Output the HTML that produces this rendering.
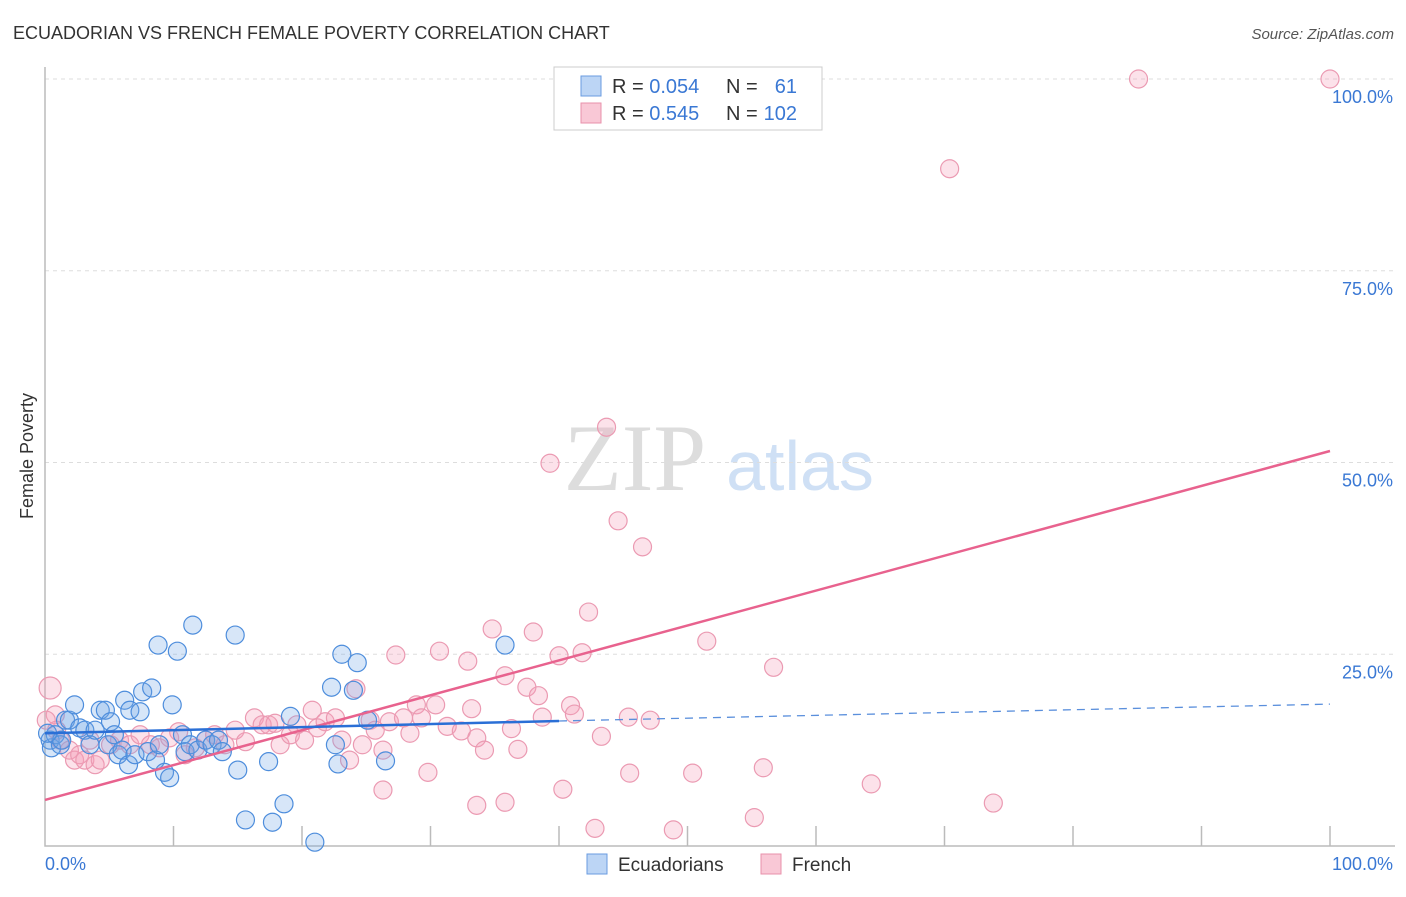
<!DOCTYPE html>
<html><head><meta charset="utf-8"><style>
body{margin:0;background:#fff;font-family:"Liberation Sans",sans-serif}
</style></head><body>
<svg width="1406" height="892" xmlns="http://www.w3.org/2000/svg" font-family="Liberation Sans, sans-serif">
<text x="13" y="39" font-size="18" fill="#333">ECUADORIAN VS FRENCH FEMALE POVERTY CORRELATION CHART</text>
<text x="1394" y="39" font-size="15" fill="#555" font-style="italic" text-anchor="end">Source: ZipAtlas.com</text>
<text x="33" y="456" font-size="18" fill="#333" transform="rotate(-90 33 456)" text-anchor="middle">Female Poverty</text>
<text x="635" y="490" font-size="95" fill="#ddd" font-family="Liberation Serif, serif" text-anchor="middle">ZIP</text>
<text x="800" y="490" font-size="70" fill="#cfe0f5" text-anchor="middle">atlas</text>
<g id="grid"></g>
<g id="marks"></g>
<rect x="554" y="67" width="268" height="63" fill="#fff" stroke="#ccc"/>
<rect x="581" y="76" width="20" height="20" fill="#bcd5f5" stroke="#6a9be0"/>
<rect x="581" y="103" width="20" height="20" fill="#f9c8d6" stroke="#e891ab"/>
<text x="612" y="93" font-size="20" fill="#333">R = <tspan fill="#3a78d4">0.054</tspan></text>
<text x="726" y="93" font-size="20" fill="#333">N =</text>
<text x="797" y="93" font-size="20" fill="#3a78d4" text-anchor="end">61</text>
<text x="612" y="120" font-size="20" fill="#333">R = <tspan fill="#3a78d4">0.545</tspan></text>
<text x="726" y="120" font-size="20" fill="#333">N =</text>
<text x="797" y="120" font-size="20" fill="#3a78d4" text-anchor="end">102</text>
<rect x="587" y="854" width="20" height="20" fill="#bcd5f5" stroke="#6a9be0"/>
<text x="618" y="871" font-size="19" fill="#333">Ecuadorians</text>
<rect x="761" y="854" width="20" height="20" fill="#f9c8d6" stroke="#e891ab"/>
<text x="792" y="871" font-size="19" fill="#333">French</text>
</svg>
<script>
const yTicks=[25,50,75,100];
const yTickLabels=["25.0%","50.0%","75.0%","100.0%"];
const xTickLabels=["0.0%","100.0%"];
const blueX=[0.4,0.5,0.8,1.2,1.6,1.9,2.3,2.7,3.1,3.5,3.9,4.3,4.7,4.9,5.1,5.4,5.7,6.0,6.2,6.5,6.6,7.0,7.4,7.6,8.0,8.3,8.6,8.8,8.9,9.3,9.7,9.9,10.3,10.7,10.9,11.3,11.5,11.9,12.5,13.0,13.5,13.8,14.8,15.0,15.6,17.4,17.7,18.6,19.1,21.0,22.3,22.6,22.8,23.1,24.0,24.3,25.1,26.5,35.8,1.3,0.2];
const blueY=[13.8,12.8,14.5,13.2,16.4,16.4,18.4,15.4,15.1,13.2,15.1,17.7,17.7,13.2,16.2,14.5,11.9,12.5,19.0,10.6,17.7,11.9,17.5,20.1,12.3,20.6,11.2,26.2,13.2,9.6,8.9,18.4,25.4,14.5,12.3,13.2,28.8,12.5,13.8,13.2,13.8,12.3,27.5,9.9,3.4,11.0,3.1,5.5,16.9,0.5,20.7,13.2,10.7,25.0,20.3,23.9,16.4,11.1,26.2,13.8,14.7];
const pinkX=[0.4,0.8,1.2,1.9,2.3,2.7,3.1,3.9,4.3,5.1,5.8,6.6,7.4,8.2,8.9,9.7,10.4,10.9,11.7,12.5,13.2,14.0,14.8,15.6,16.3,16.9,17.4,17.9,18.3,19.1,19.6,20.2,20.8,21.2,21.8,22.6,23.1,23.7,24.2,24.7,25.3,25.7,26.3,26.8,27.3,27.9,28.4,28.9,29.3,29.8,30.4,30.7,31.3,32.4,32.9,33.2,33.6,34.2,34.8,35.8,36.3,36.8,37.5,38.0,38.4,38.7,39.3,40.0,40.3,40.9,41.2,41.8,42.3,42.8,43.3,43.7,44.6,45.4,45.5,46.5,47.1,48.9,50.4,51.5,55.2,55.9,56.7,64.3,70.4,73.8,85.1,100,0.1,0.9,3.5,26.3,33.6,35.8];
const pinkY=[20.6,17.1,13.8,12.5,11.2,11.9,11.2,10.6,11.2,13.2,13.8,13.2,14.5,13.2,12.8,14.1,14.9,11.9,12.8,13.8,14.5,13.2,15.1,13.6,16.7,15.8,15.8,16.0,13.2,14.5,15.8,13.8,17.7,15.4,16.2,16.7,13.8,11.2,20.5,13.2,16.4,15.1,12.5,16.2,24.9,16.7,14.7,18.4,16.7,9.6,18.4,25.4,15.6,15.0,24.1,17.9,14.1,12.5,28.3,22.2,15.3,12.6,20.7,27.9,19.6,16.8,49.9,24.8,7.4,18.3,17.2,25.2,30.5,2.3,14.3,54.6,42.4,16.8,9.5,39.0,16.4,2.1,9.5,26.7,3.7,10.2,23.3,8.1,88.3,5.6,100,100,16.4,15.1,13.8,7.3,5.3,5.7];
const blueTrend=[14.7,16.3,18.5]; // at x=0,40,100
const pinkTrend=[6.0,51.5]; // at x=0,100
const NS="http://www.w3.org/2000/svg";
const sx=v=>45+v*12.85, sy=v=>846-v*7.67;
function mk(tag,attrs,parent){const e=document.createElementNS(NS,tag);for(const k in attrs)e.setAttribute(k,attrs[k]);parent.appendChild(e);return e;}
const grid=document.getElementById('grid'),marks=document.getElementById('marks');
yTicks.forEach((t,i)=>{
 const l=mk('line',{x1:45,x2:1395,y1:sy(t),y2:sy(t),stroke:'#ddd','stroke-dasharray':'4,4'},grid);
 
 
 const tx=mk('text',{x:1393,y:sy(t)+24,'font-size':18,fill:'#3a78d4','text-anchor':'end'},grid);
 tx.textContent=yTickLabels[i];
 
 
});
const ax=mk('path',{d:'M45 67V846H1395',fill:'none',stroke:'#bbb','stroke-width':1.5},grid);


for(let i=1;i<=10;i++){
 const t=mk('line',{x1:sx(i*10),x2:sx(i*10),y1:826,y2:846,stroke:'#bbb','stroke-width':1.5},grid);
 
 
}
[[0,'start',45],[100,'end',1393]].forEach((d,i)=>{
 const t=mk('text',{x:d[2],y:870,'font-size':18,fill:'#3a78d4','text-anchor':d[1]},grid);
 t.textContent=xTickLabels[i];
 
 
});
pinkX.forEach((x,i)=>{
 const c=mk('circle',{cx:sx(x),cy:sy(pinkY[i]),r:i==0?11:9,fill:'rgba(245,160,185,0.3)',stroke:'#eb9ab2','stroke-width':1.2},marks);
 
 
});
blueX.forEach((x,i)=>{
 const c=mk('circle',{cx:sx(x),cy:sy(blueY[i]),r:9,fill:'rgba(110,165,230,0.28)',stroke:'#4d8ddc','stroke-width':1.2},marks);
 
 
});
const pl=mk('line',{x1:sx(0),y1:sy(pinkTrend[0]),x2:sx(100),y2:sy(pinkTrend[1]),stroke:'#e8628e','stroke-width':2.5},marks);


const bl=mk('line',{x1:sx(0),y1:sy(blueTrend[0]),x2:sx(40),y2:sy(blueTrend[1]),stroke:'#2a6fd6','stroke-width':2.5},marks);


const bd=mk('line',{x1:sx(40),y1:sy(blueTrend[1]),x2:sx(100),y2:sy(blueTrend[2]),stroke:'#5a8fdc','stroke-width':1.3,'stroke-dasharray':'8,6'},marks);


</script>
</body></html>
